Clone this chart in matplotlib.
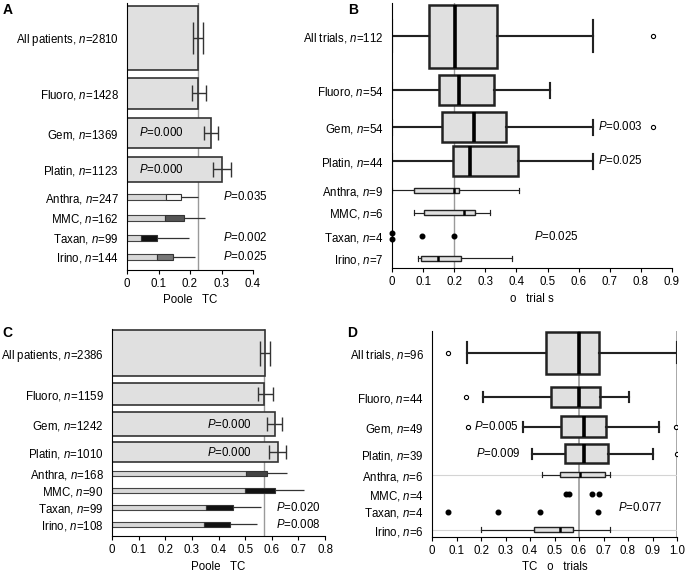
# Pooled TC (patients) and TC of trials, by drug group
import numpy as np
import matplotlib.pyplot as plt
import matplotlib

matplotlib.rc('font', family='Liberation Sans', size=8)
matplotlib.rcParams['mathtext.fontset'] = 'custom'
matplotlib.rcParams['mathtext.it'] = 'Liberation Sans:italic'
matplotlib.rcParams['mathtext.rm'] = 'Liberation Sans'

# ---- data ----
groups = ['Fluoro', 'Gem', 'Platin', 'Anthra', 'MMC', 'Taxan', 'Irino']

# A: pooled TC, all patients
a_n = [2810, 1428, 1369, 1123, 247, 162, 99, 144]
a_big_val = [0.226, 0.226, 0.268, 0.302]
a_big_lo = [0.209, 0.205, 0.243, 0.272]
a_big_hi = [0.240, 0.250, 0.290, 0.329]
a_small_split = [0.125, 0.122, 0.044, 0.094]
a_small_val = [0.172, 0.180, 0.094, 0.147]
a_small_hi = [0.225, 0.248, 0.196, 0.215]
a_ref = 0.225
a_p = ['', '', '0.000', '0.000', '0.035', '', '0.002', '0.025']

# C: pooled TC, second set of patients
c_n = [2386, 1159, 1242, 1010, 168, 90, 99, 108]
c_big_val = [0.575, 0.572, 0.612, 0.624]
c_big_lo = [0.556, 0.548, 0.583, 0.590]
c_big_hi = [0.594, 0.603, 0.640, 0.655]
c_small_split = [0.505, 0.500, 0.353, 0.346]
c_small_val = [0.584, 0.612, 0.456, 0.443]
c_small_hi = [0.658, 0.721, 0.560, 0.543]
c_ref = 0.572
c_p = ['', '', '0.000', '0.000', '', '', '0.020', '0.008']

# B: trials (whisker low, Q1, median, Q3, whisker high)
b_n = [112, 54, 54, 44, 9, 6, 4, 7]
b_wlo = [0.0, 0.0, 0.0, 0.0, 0.0, 0.072, None, 0.082]
b_q1 = [0.118, 0.152, 0.161, 0.195, 0.072, 0.102, None, 0.093]
b_med = [0.203, 0.216, 0.262, 0.252, 0.198, 0.230, None, 0.148]
b_q3 = [0.337, 0.327, 0.366, 0.405, 0.214, 0.268, None, 0.222]
b_whi = [0.645, 0.509, 0.645, 0.645, 0.407, 0.314, None, 0.386]
b_fliers = [[0.84], [], [0.84], [], [], [], [], []]
b_points = [[], [], [], [], [], [], [0.0, 0.0, 0.095, 0.2], []]
b_ref = 0.2
b_p = ['', '', '0.003', '0.025', '', '', '0.025', '']

# D: trials
d_n = [96, 44, 49, 39, 6, 4, 4, 6]
d_wlo = [0.142, 0.209, 0.371, 0.407, 0.449, None, None, 0.200]
d_q1 = [0.464, 0.486, 0.526, 0.542, 0.524, None, None, 0.418]
d_med = [0.600, 0.600, 0.619, 0.619, 0.603, None, None, 0.521]
d_q3 = [0.683, 0.686, 0.712, 0.720, 0.707, None, None, 0.575]
d_whi = [1.000, 0.805, 0.926, 0.903, 0.728, None, None, 0.728]
d_fliers = [[0.067], [0.138], [0.147, 0.997], [1.0], [], [], [], []]
d_points = [[], [], [], [], [], [0.548, 0.558, 0.655, 0.68],
            [0.064, 0.268, 0.442, 0.676], []]
d_refs = [0.6, 1.0]
d_p = ['', '', '0.005', '0.009', '', '', '0.077', '']

# ---- layout (pixels of the 685x573 figure) ----
W, H = 685, 573
frame_a = (127, 253, 3, 270)
frame_b = (392, 672, 3, 268)
frame_c = (112, 325, 329, 536)
frame_d = (432, 677, 331, 537)

rows_a = [38, 93.5, 133, 169.5, 197, 217.7, 237.7, 256.7]
hts_a = [64, 31, 30, 25, 6, 6, 6, 6]
caps_a = [11.5, 6, 4.7, 5.4]
rows_c = [353, 394, 424, 452, 473.3, 490, 507.3, 524.3]
hts_c = [46, 22, 24, 20, 5, 5, 5, 5]
caps_c = [9, 5, 5, 5]
rows_b = [36, 90, 127, 161, 190, 212.7, 236, 258]
hts_b = [63, 30, 30, 30, 5, 5, 0, 5]
jit_b = [-3, 3, 0, 0]
rows_d = [353, 397, 427, 454, 475, 494, 511.7, 530]
hts_d = [42, 20, 21, 19, 5, 0, 0, 5]

px_a = [0.038] * 4 + [0.304] * 4
px_c = [0.358] * 4 + [0.616] * 4
px_b = [0.661] * 4 + [0.455] * 4
px_d = [0, 0, 0.355, 0.178, 0, 0, 0.76, 0]
ha_d = ['left', 'left', 'right', 'left', 'left', 'left', 'left', 'left']
dy_d = [0, 0, 0, 0, 0, 0, -4, 0]

col_a = ['#f4f4f4', '#555555', '#111111', '#777777']
col_c = ['#444444', '#111111', '#111111', '#111111']

fig = plt.figure(figsize=(W / 100, H / 100), dpi=100)


def add_axes(frame):
    left, right, top, bottom = frame
    ax = fig.add_axes([left / W, 1 - bottom / H, (right - left) / W, (bottom - top) / H])
    ax.set_ylim(bottom, top)
    ax.spines[['top', 'right']].set_visible(False)
    ax.tick_params(axis='y', length=0, pad=6, labelsize=8.3)
    ax.tick_params(axis='x', length=3, width=0.8, pad=3, labelsize=8.3)
    return ax


def style(ax, first, names, n, rows, xmax, xlabel):
    ticks = np.arange(0, xmax + 0.001, 0.1)
    ax.set_xlim(0, xmax)
    ax.set_xticks(ticks)
    ax.set_xticklabels(['0' if t == 0 else f'{t:.1f}' for t in ticks])
    ax.set_yticks(rows)
    ax.set_yticklabels([f'{g}, $n$={k}' for g, k in zip([first] + names, n)])
    ax.set_xlabel(xlabel, labelpad=3, fontsize=8.3)


def p_texts(ax, pvals, rows, xs, has=None, dys=None):
    for i, p in enumerate(pvals):
        if p:
            ha = has[i] if has else 'left'
            dy = dys[i] if dys else 0
            ax.text(xs[i], rows[i] + dy, f'$P$={p}', ha=ha, va='center',
                    fontsize=8.3, clip_on=False, zorder=5)


def bar_panel(ax, big_val, big_lo, big_hi, split, val, hi, colors, ref, rows, hts, caps):
    nb = len(big_val)
    ax.axvline(ref, color='#9a9a9a', lw=1, zorder=0)
    ax.barh(rows[:nb], big_val, height=hts[:nb], color='#e0e0e0',
            edgecolor='#333333', lw=1.2, zorder=2)
    for y, v, lo, up, cs in zip(rows[:nb], big_val, big_lo, big_hi, caps):
        ax.errorbar(v, y, xerr=[[v - lo], [up - v]], fmt='none', ecolor='#333333',
                    elinewidth=1, capsize=cs, capthick=1, zorder=3)
    ax.barh(rows[nb:], split, height=hts[nb:], color='#d8d8d8',
            edgecolor='#444444', lw=0.8, zorder=2)
    ax.barh(rows[nb:], np.subtract(val, split), left=split, height=hts[nb:],
            color=colors, edgecolor='#333333', lw=0.8, zorder=2)
    ax.hlines(rows[nb:], val, hi, color='#333333', lw=0.9, zorder=3)


def box_panel(ax, wlo, q1, med, q3, whi, fliers, points, rows, hts, jitter=None):
    big, small = [], []
    for i in range(len(rows)):
        if q1[i] is None:
            continue
        st = dict(med=med[i], q1=q1[i], q3=q3[i], whislo=wlo[i], whishi=whi[i],
                  fliers=fliers[i])
        (big if hts[i] > 10 else small).append((st, rows[i], hts[i]))
    for items, lw, mlw, capf in [(big, 1.8, 2.6, 0.5), (small, 1.0, 1.8, 1.0)]:
        ax.bxp([s for s, _, _ in items], positions=[r for _, r, _ in items],
               widths=[h for _, _, h in items],
               capwidths=[h * capf for _, _, h in items],
               orientation='horizontal', patch_artist=True, manage_ticks=False,
               boxprops=dict(facecolor='#e0e0e0', edgecolor='#222222', lw=lw),
               medianprops=dict(color='black', lw=mlw),
               whiskerprops=dict(color='#222222', lw=lw * 0.85),
               capprops=dict(color='#222222', lw=lw * 0.85),
               flierprops=dict(marker='o', mfc='white', mec='black', ms=3, mew=0.8))
    for i, pts in enumerate(points):
        if pts:
            offs = jitter if jitter else [0] * len(pts)
            ax.plot(pts, np.add(rows[i], offs), 'o', color='black', ms=3.3,
                    clip_on=False, zorder=4)


# A
ax = add_axes(frame_a)
bar_panel(ax, a_big_val, a_big_lo, a_big_hi, a_small_split, a_small_val, a_small_hi,
          col_a, a_ref, rows_a, hts_a, caps_a)
style(ax, 'All patients', groups, a_n, rows_a, 0.4, 'Poole   TC')
p_texts(ax, a_p, rows_a, px_a)

# B
ax = add_axes(frame_b)
ax.axvline(b_ref, color='#9a9a9a', lw=1, zorder=0)
box_panel(ax, b_wlo, b_q1, b_med, b_q3, b_whi, b_fliers, b_points, rows_b, hts_b, jit_b)
style(ax, 'All trials', groups, b_n, rows_b, 0.9, 'o   trial s')
p_texts(ax, b_p, rows_b, px_b)

# C
ax = add_axes(frame_c)
bar_panel(ax, c_big_val, c_big_lo, c_big_hi, c_small_split, c_small_val, c_small_hi,
          col_c, c_ref, rows_c, hts_c, caps_c)
style(ax, 'All patients', groups, c_n, rows_c, 0.8, 'Poole   TC')
p_texts(ax, c_p, rows_c, px_c)

# D
ax = add_axes(frame_d)
for r in d_refs:
    ax.axvline(r, color='#9a9a9a', lw=1.2, zorder=0)
ax.hlines([rows_d[4], rows_d[7]], 0, 1, color='#d4d4d4', lw=0.8, zorder=0)
box_panel(ax, d_wlo, d_q1, d_med, d_q3, d_whi, d_fliers, d_points, rows_d, hts_d)
style(ax, 'All trials', groups, d_n, rows_d, 1.0, 'TC   o   trials')
p_texts(ax, d_p, rows_d, px_d, ha_d, dy_d)

for letter, x, y in [('A', 3, 10), ('B', 348, 10), ('C', 2, 333), ('D', 347, 333)]:
    fig.text(x / W, 1 - y / H, letter, fontsize=10, fontweight='bold', va='center')

fig.savefig('out.png', dpi=100)
